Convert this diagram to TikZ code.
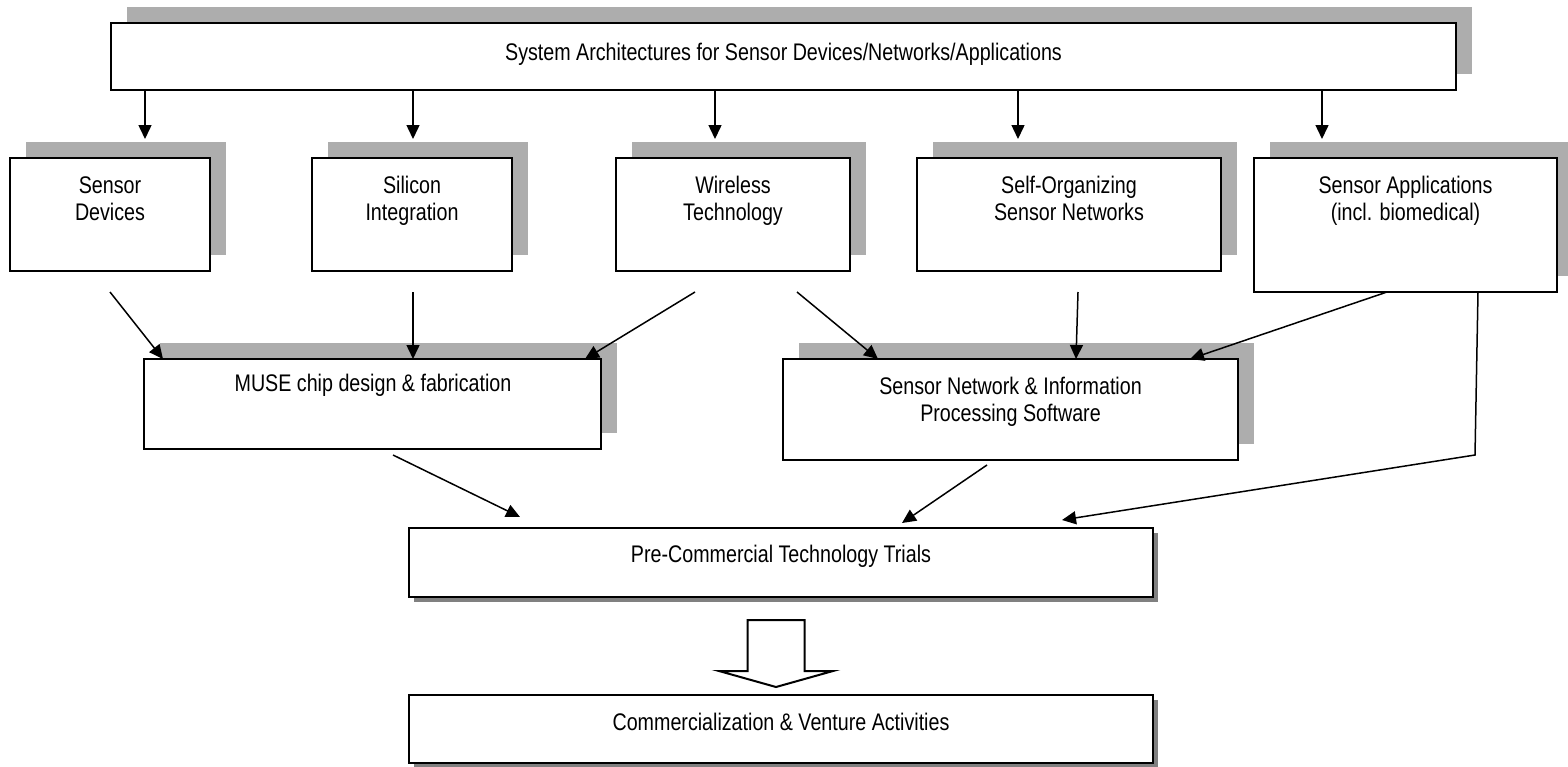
\documentclass[tikz,border=0pt]{standalone}
\usepackage{fontspec}
\setmainfont{Liberation Sans}[FakeStretch=0.82]
\usetikzlibrary{arrows.meta,shadows}
\definecolor{shadegray}{gray}{0.68}
\definecolor{darkshade}{gray}{0.5}
\begin{document}
\begin{tikzpicture}[x=0.5pt,y=-0.5pt,
  box/.style={draw, line width=1pt, fill=white, inner sep=0pt, outer sep=0pt, anchor=north west},
  sh/.style={drop shadow={shadow xshift=8pt, shadow yshift=8pt, fill=shadegray, opacity=1}},
  dsh/.style={drop shadow={shadow xshift=2.5pt, shadow yshift=-2.5pt, fill=darkshade, opacity=1}},
  lbl/.style={inner sep=0pt, align=center, font=\fontsize{12}{13.5}\selectfont},
  arr/.style={-{Triangle[length=7pt,width=6.5pt]}, line width=0.75pt},
  ln/.style={line width=0.75pt}
]
\useasboundingbox (0,0) rectangle (1568,766);
% boxes
\node[box, sh, minimum width=672.5pt, minimum height=33.5pt] (top) at (111,23) {};
\node[box, sh, minimum width=100pt, minimum height=56.5pt] (sd) at (10,158) {};
\node[box, sh, minimum width=100pt, minimum height=56.5pt] (si) at (312,158) {};
\node[box, sh, minimum width=117pt, minimum height=56.5pt] (wt) at (616,158) {};
\node[box, sh, minimum width=152pt, minimum height=56.5pt] (so) at (917,158) {};
\node[box, sh, minimum width=151.5pt, minimum height=67pt] (sa) at (1254,158) {};
\node[box, sh, minimum width=228.5pt, minimum height=45pt] (muse) at (144,359) {};
\node[box, sh, minimum width=227.5pt, minimum height=50.5pt] (sn) at (783,359) {};
\node[box, dsh, minimum width=372pt, minimum height=34.5pt] (pre) at (409,528) {};
\node[box, dsh, minimum width=372pt, minimum height=34pt] (com) at (409,695) {};
% texts
\node[lbl, anchor=base] (topt) at (783.5,60.5) {System Architectures for Sensor Devices/Networks/Applications};
\node[lbl, anchor=north] (sdt) at (110,176) {Sensor\\Devices};
\node[lbl, anchor=north] (sit) at (412,176) {Silicon\\Integration};
\node[lbl, anchor=north] (wtt) at (733,176) {Wireless\\Technology};
\node[lbl, anchor=north] (sot) at (1069,176) {Self-Organizing\\Sensor Networks};
\node[lbl, anchor=north] (sat) at (1405.5,176) {Sensor Applications\\(incl. biomedical)};
\node[lbl, anchor=base] (muset) at (373,391.5) {MUSE chip design \& fabrication};
\node[lbl, anchor=north] (snt) at (1010.5,377) {Sensor Network \& Information\\Processing Software};
\node[lbl, anchor=base] (pret) at (781,562.5) {Pre-Commercial Technology Trials};
\node[lbl, anchor=base] (comt) at (781,730.5) {Commercialization \& Venture Activities};
% free ends
\coordinate (t1) at (145,139);
\coordinate (t2) at (413,139);
\coordinate (t3) at (715,139);
\coordinate (t4) at (1018,139);
\coordinate (t5) at (1322,139);
\coordinate (s1) at (110,292);
\coordinate (s2) at (413,292);
\coordinate (s3) at (695,292);
\coordinate (s4) at (797,292);
\coordinate (s5) at (1078,292);
\coordinate (m1) at (393,455);
\coordinate (m2) at (520,517);
\coordinate (n1) at (987,465);
\coordinate (n2) at (902,523);
\coordinate (c1) at (1475,455);
\coordinate (c2) at (1062,520);
% arrows from top
\draw[arr] (top.south -| t1) -- (t1);
\draw[arr] (top.south -| t2) -- (t2);
\draw[arr] (top.south -| t3) -- (t3);
\draw[arr] (top.south -| t4) -- (t4);
\draw[arr] (top.south -| t5) -- (t5);
% row 2 to row 3
\draw[arr] (s1) -- (muse.north -| 163,0);
\draw[arr] (s2) -- (muse.north -| s2);
\draw[arr] (s3) -- (muse.north -| 585,0);
\draw[arr] (s4) -- (sn.north -| 878,0);
\draw[arr] (s5) -- (sn.north -| 1076,0);
\draw[arr] (sa.south -| 1387,0) -- (sn.north -| 1190,0);
% to pre-commercial
\draw[arr] (m1) -- (m2);
\draw[arr] (n1) -- (n2);
\draw[arr] (sa.south -| 1478,0) -- (c1) -- (c2);
% hollow arrow between pre and com
\draw[line width=1pt, fill=white] (747.5,620) -- (804.5,620) -- (804.5,671) -- (833,671) -- (776,687) -- (719,671) -- (747.5,671) -- cycle;
\end{tikzpicture}
\end{document}
